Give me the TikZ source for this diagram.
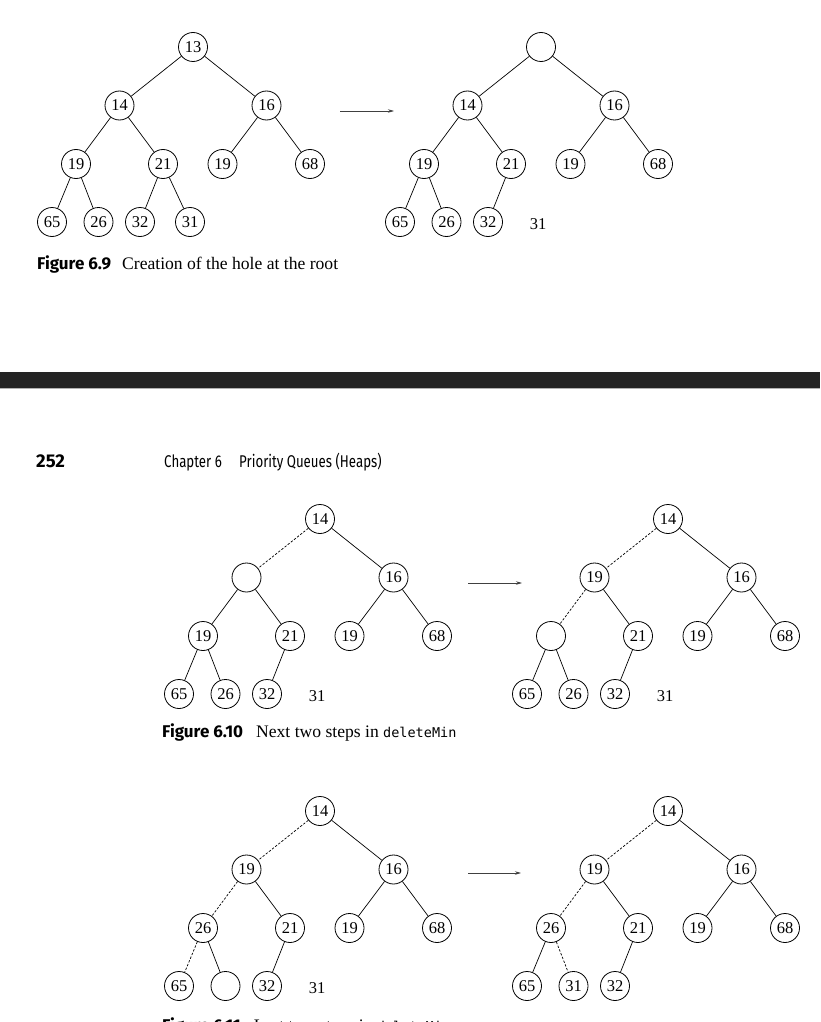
\documentclass[tikz,border=0pt]{standalone}
\usepackage{fontspec}
\setmainfont{Liberation Serif}
\setmonofont{DejaVu Sans Mono}
\newfontfamily\capsans{Fira Sans}
\newfontfamily\headfont[FakeStretch=0.78]{Fira Sans}
\usetikzlibrary{arrows.meta}
\tikzset{
  hnode/.style={circle, draw, minimum size=29pt, inner sep=0pt, line width=0.8pt, font=\fontsize{16.5}{18}\selectfont},
  loose/.style={inner sep=0pt, font=\fontsize{16.5}{18}\selectfont},
  edge/.style={line width=0.7pt},
  dedge/.style={line width=0.7pt, dash pattern=on 2.4pt off 1.6pt},
  arr/.style={line width=0.7pt, black!75, -{Stealth[length=6pt,width=3.5pt]}},
  captext/.style={anchor=base west, inner sep=0pt, font=\fontsize{17.6}{20}\selectfont},
}
\newcommand\figlabel[1]{{\capsans\bfseries\fontsize{17}{20}\selectfont #1}}
\begin{document}
\begin{tikzpicture}[x=1pt,y=-1pt]
\useasboundingbox (0,0) rectangle (820,1022);
\fill[white] (0,0) rectangle (820,1022);

% ---------- Figure 6.9, left tree
\begin{scope}[shift={(193,47)}]
\node[hnode] (t1r) at (0,0) {13};
\node[hnode] (t1a) at (-73.5,58.5) {14};
\node[hnode] (t1b) at (73.5,58.5) {16};
\node[hnode] (t1c) at (-117,117) {19};
\node[hnode] (t1d) at (-30,117) {21};
\node[hnode] (t1e) at (29.5,117) {19};
\node[hnode] (t1f) at (117,117) {68};
\node[hnode] (t1g) at (-141,175) {65};
\node[hnode] (t1h) at (-94.5,175) {26};
\node[hnode] (t1i) at (-53,175) {32};
\node[hnode] (t1j) at (-3,175) {31};
\end{scope}
\draw[edge] (t1r)--(t1a); \draw[edge] (t1r)--(t1b);
\draw[edge] (t1a)--(t1c); \draw[edge] (t1a)--(t1d);
\draw[edge] (t1b)--(t1e); \draw[edge] (t1b)--(t1f);
\draw[edge] (t1c)--(t1g); \draw[edge] (t1c)--(t1h);
\draw[edge] (t1d)--(t1i); \draw[edge] (t1d)--(t1j);

% ---------- Figure 6.9, right tree
\begin{scope}[shift={(541,47)}]
\node[hnode] (t2r) at (0,0) {};
\node[hnode] (t2a) at (-73.5,58.5) {14};
\node[hnode] (t2b) at (73.5,58.5) {16};
\node[hnode] (t2c) at (-117,117) {19};
\node[hnode] (t2d) at (-30,117) {21};
\node[hnode] (t2e) at (29.5,117) {19};
\node[hnode] (t2f) at (117,117) {68};
\node[hnode] (t2g) at (-141,175) {65};
\node[hnode] (t2h) at (-94.5,175) {26};
\node[hnode] (t2i) at (-53,175) {32};
\node[loose] (t2j) at (-3,177) {31};
\end{scope}
\draw[edge] (t2r)--(t2a); \draw[edge] (t2r)--(t2b);
\draw[edge] (t2a)--(t2c); \draw[edge] (t2a)--(t2d);
\draw[edge] (t2b)--(t2e); \draw[edge] (t2b)--(t2f);
\draw[edge] (t2c)--(t2g); \draw[edge] (t2c)--(t2h);
\draw[edge] (t2d)--(t2i);

\coordinate (a1s) at (340,111); \coordinate (a1e) at (394,111);
\draw[arr] (a1s)--(a1e);

\node[captext] (cap9) at (37,269) {\figlabel{Figure 6.9}\hspace{11pt}Creation of the hole at the root};

% ---------- page break band and header
\fill[black!86] (0,372) rectangle (820,388);
\draw[black!30, line width=1pt] (0,388.6)--(820,388.6);
\node[anchor=base west, inner sep=0pt, font=\capsans\bfseries\fontsize{18.5}{20}\selectfont] (pg) at (36,467) {252};
\node[anchor=base west, inner sep=0pt, font=\headfont\fontsize{17}{20}\selectfont] (ch) at (164,467) {Chapter 6};
\node[anchor=base west, inner sep=0pt, font=\headfont\fontsize{17}{20}\selectfont] (pq) at (239,467) {Priority Queues (Heaps)};

% ---------- Figure 6.10, left tree
\begin{scope}[shift={(320,519)}]
\node[hnode] (t3r) at (0,0) {14};
\node[hnode] (t3a) at (-73.5,58.5) {};
\node[hnode] (t3b) at (73.5,58.5) {16};
\node[hnode] (t3c) at (-117,117) {19};
\node[hnode] (t3d) at (-30,117) {21};
\node[hnode] (t3e) at (29.5,117) {19};
\node[hnode] (t3f) at (117,117) {68};
\node[hnode] (t3g) at (-141,175) {65};
\node[hnode] (t3h) at (-94.5,175) {26};
\node[hnode] (t3i) at (-53,175) {32};
\node[loose] (t3j) at (-3,177) {31};
\end{scope}
\draw[dedge] (t3r)--(t3a); \draw[edge] (t3r)--(t3b);
\draw[edge] (t3a)--(t3c); \draw[edge] (t3a)--(t3d);
\draw[edge] (t3b)--(t3e); \draw[edge] (t3b)--(t3f);
\draw[edge] (t3c)--(t3g); \draw[edge] (t3c)--(t3h);
\draw[edge] (t3d)--(t3i);

% ---------- Figure 6.10, right tree
\begin{scope}[shift={(668,519)}]
\node[hnode] (t4r) at (0,0) {14};
\node[hnode] (t4a) at (-73.5,58.5) {19};
\node[hnode] (t4b) at (73.5,58.5) {16};
\node[hnode] (t4c) at (-117,117) {};
\node[hnode] (t4d) at (-30,117) {21};
\node[hnode] (t4e) at (29.5,117) {19};
\node[hnode] (t4f) at (117,117) {68};
\node[hnode] (t4g) at (-141,175) {65};
\node[hnode] (t4h) at (-94.5,175) {26};
\node[hnode] (t4i) at (-53,175) {32};
\node[loose] (t4j) at (-3,177) {31};
\end{scope}
\draw[dedge] (t4r)--(t4a); \draw[edge] (t4r)--(t4b);
\draw[dedge] (t4a)--(t4c); \draw[edge] (t4a)--(t4d);
\draw[edge] (t4b)--(t4e); \draw[edge] (t4b)--(t4f);
\draw[edge] (t4c)--(t4g); \draw[edge] (t4c)--(t4h);
\draw[edge] (t4d)--(t4i);

\coordinate (a2s) at (468,583); \coordinate (a2e) at (522,583);
\draw[arr] (a2s)--(a2e);

\node[captext] (cap10) at (162,737) {\figlabel{Figure 6.10}\hspace{13pt}Next two steps in {\ttfamily\fontsize{13.5}{15}\selectfont deleteMin}};

% ---------- Figure 6.11, left tree
\begin{scope}[shift={(320,811)}]
\node[hnode] (t5r) at (0,0) {14};
\node[hnode] (t5a) at (-73.5,58.5) {19};
\node[hnode] (t5b) at (73.5,58.5) {16};
\node[hnode] (t5c) at (-117,117) {26};
\node[hnode] (t5d) at (-30,117) {21};
\node[hnode] (t5e) at (29.5,117) {19};
\node[hnode] (t5f) at (117,117) {68};
\node[hnode] (t5g) at (-141,175) {65};
\node[hnode] (t5h) at (-94.5,175) {};
\node[hnode] (t5i) at (-53,175) {32};
\node[loose] (t5j) at (-3,177) {31};
\end{scope}
\draw[dedge] (t5r)--(t5a); \draw[edge] (t5r)--(t5b);
\draw[dedge] (t5a)--(t5c); \draw[edge] (t5a)--(t5d);
\draw[edge] (t5b)--(t5e); \draw[edge] (t5b)--(t5f);
\draw[dedge] (t5c)--(t5g); \draw[edge] (t5c)--(t5h);
\draw[edge] (t5d)--(t5i);

% ---------- Figure 6.11, right tree
\begin{scope}[shift={(668,811)}]
\node[hnode] (t6r) at (0,0) {14};
\node[hnode] (t6a) at (-73.5,58.5) {19};
\node[hnode] (t6b) at (73.5,58.5) {16};
\node[hnode] (t6c) at (-117,117) {26};
\node[hnode] (t6d) at (-30,117) {21};
\node[hnode] (t6e) at (29.5,117) {19};
\node[hnode] (t6f) at (117,117) {68};
\node[hnode] (t6g) at (-141,175) {65};
\node[hnode] (t6h) at (-94.5,175) {31};
\node[hnode] (t6i) at (-53,175) {32};
\end{scope}
\draw[dedge] (t6r)--(t6a); \draw[edge] (t6r)--(t6b);
\draw[dedge] (t6a)--(t6c); \draw[edge] (t6a)--(t6d);
\draw[edge] (t6b)--(t6e); \draw[edge] (t6b)--(t6f);
\draw[edge] (t6c)--(t6g); \draw[dedge] (t6c)--(t6h);
\draw[edge] (t6d)--(t6i);

\coordinate (a3s) at (468,873); \coordinate (a3e) at (521,873);
\draw[arr] (a3s)--(a3e);

\node[captext] (cap11) at (162,1031) {\figlabel{Figure 6.11}\hspace{13pt}Last two steps in {\ttfamily\fontsize{13.5}{15}\selectfont deleteMin}};
\end{tikzpicture}
\end{document}
